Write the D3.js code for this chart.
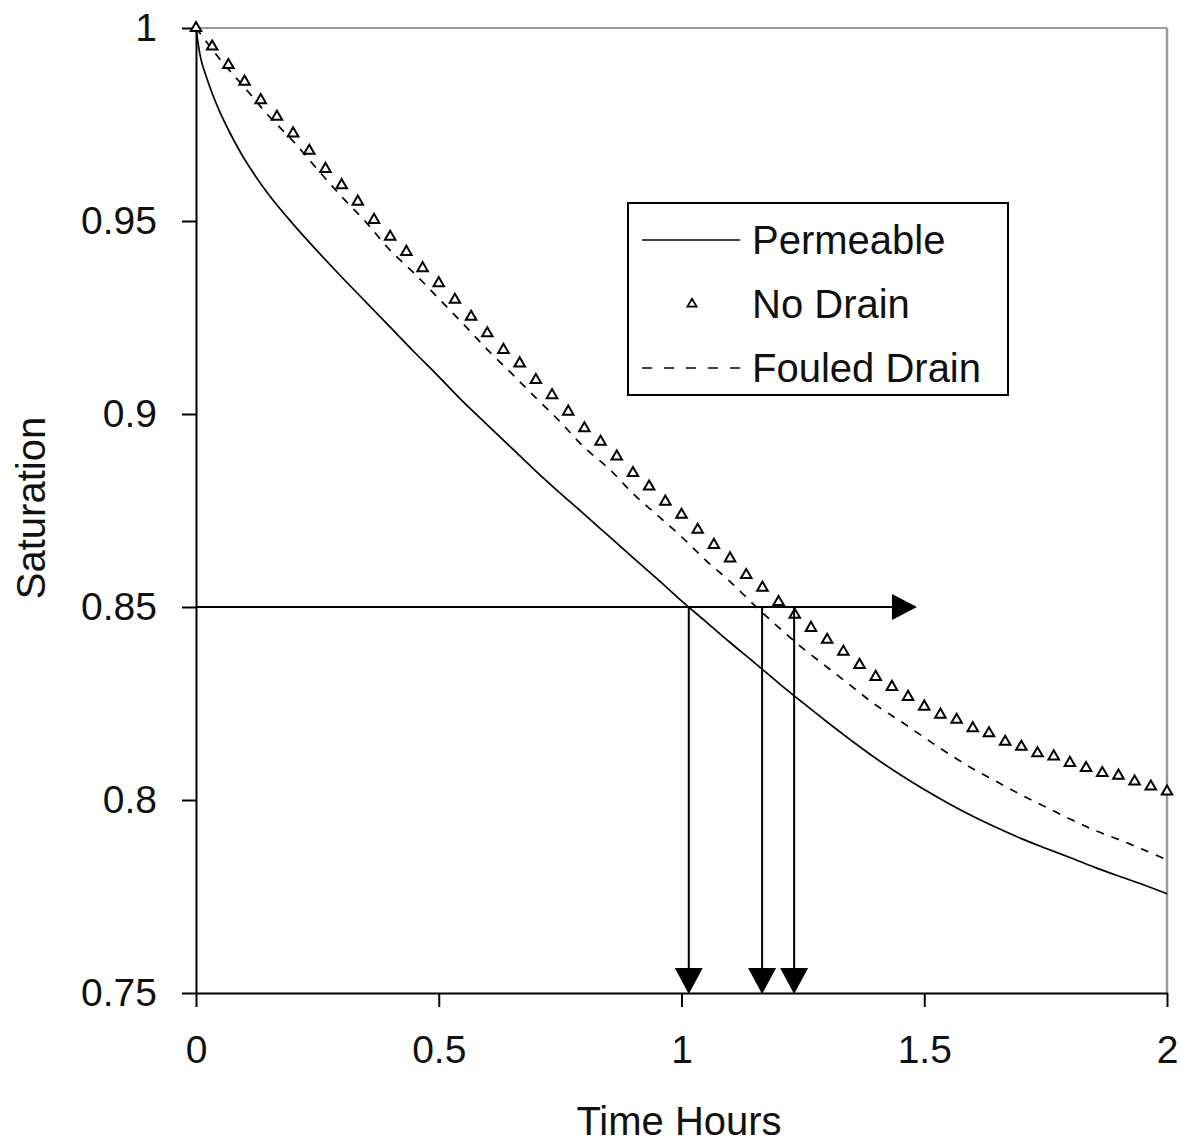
<!DOCTYPE html>
<html>
<head>
<meta charset="utf-8">
<script src="https://cdn.jsdelivr.net/npm/d3@7"></script>
<style>
  html, body { margin: 0; padding: 0; background: #fff; }
  svg { display: block; font-family: "Liberation Sans", Arial, sans-serif; }
</style>
</head>
<body>
<svg id="chart" width="1181" height="1145"></svg>
<script>
// ---------------- DATA ----------------
const xTicks = [0, 0.5, 1, 1.5, 2];
const yTicks = [0.75, 0.8, 0.85, 0.9, 0.95, 1];
const xTickLabels = ["0", "0.5", "1", "1.5", "2"];
const yTickLabels = ["0.75", "0.8", "0.85", "0.9", "0.95", "1"];

const seriesNames = ["Permeable", "No Drain", "Fouled Drain"];

// Permeable (solid line)
const permeableT = [0, 0.01, 0.02, 0.035, 0.05, 0.07, 0.1, 0.15, 0.2, 0.25, 0.3, 0.35, 0.4, 0.45, 0.5,
  0.55, 0.6, 0.65, 0.7, 0.75, 0.8, 0.85, 0.9, 0.95, 1.0, 1.05, 1.1, 1.15, 1.2, 1.25, 1.3, 1.35, 1.4,
  1.45, 1.5, 1.55, 1.6, 1.65, 1.7, 1.75, 1.8, 1.85, 1.9, 1.95, 2.0];
const permeableS = [1.0, 0.992, 0.9878, 0.9825, 0.978, 0.9728, 0.966, 0.9568, 0.9492, 0.9422, 0.9355, 0.929, 0.9225, 0.916, 0.9097,
  0.9032, 0.8972, 0.8912, 0.8852, 0.8795, 0.874, 0.8684, 0.8628, 0.8573, 0.8516, 0.8462, 0.8408, 0.8356, 0.8303, 0.8252, 0.8202, 0.8154, 0.8108,
  0.8066, 0.8027, 0.7991, 0.7958, 0.7928, 0.79, 0.7875, 0.7851, 0.7826, 0.7803, 0.7781, 0.7757];

// No Drain (triangle markers)
const noDrainT = [0, 0.0333, 0.0667, 0.1, 0.1333, 0.1667, 0.2, 0.2333, 0.2667, 0.3, 0.3333, 0.3667, 0.4, 0.4333, 0.4667,
  0.5, 0.5333, 0.5667, 0.6, 0.6333, 0.6667, 0.7, 0.7333, 0.7667, 0.8, 0.8333, 0.8667, 0.9, 0.9333, 0.9667,
  1.0, 1.0333, 1.0667, 1.1, 1.1333, 1.1667, 1.2, 1.2333, 1.2667, 1.3, 1.3333, 1.3667, 1.4, 1.4333, 1.4667,
  1.5, 1.5333, 1.5667, 1.6, 1.6333, 1.6667, 1.7, 1.7333, 1.7667, 1.8, 1.8333, 1.8667, 1.9, 1.9333, 1.9667, 2.0];
const noDrainS = [1.0, 0.9952, 0.9904, 0.9861, 0.9813, 0.977, 0.9727, 0.9682, 0.9635, 0.9593, 0.955, 0.9503, 0.9459, 0.942, 0.9378,
  0.9339, 0.9296, 0.9252, 0.9209, 0.9166, 0.9131, 0.9088, 0.9049, 0.9006, 0.8963, 0.8928, 0.889, 0.8847, 0.8812, 0.8773,
  0.8739, 0.87, 0.8661, 0.8626, 0.8583, 0.855, 0.8513, 0.848, 0.8446, 0.8415, 0.8384, 0.835, 0.8319, 0.8293, 0.8267,
  0.8242, 0.8221, 0.8208, 0.8186, 0.8173, 0.8151, 0.8138, 0.8121, 0.8113, 0.8096, 0.8083, 0.807, 0.8063, 0.8048, 0.8035, 0.8022];

// Fouled Drain (dashed line)
const fouledT = [0, 0.05, 0.1, 0.15, 0.2, 0.25, 0.3, 0.35, 0.4, 0.45, 0.5, 0.55, 0.6, 0.65, 0.7, 0.75, 0.8, 0.85, 0.9, 0.95,
  1.0, 1.05, 1.1, 1.15, 1.2, 1.25, 1.3, 1.35, 1.4, 1.45, 1.5, 1.55, 1.6, 1.65, 1.7, 1.75, 1.8, 1.85, 1.9, 1.95, 2.0];
const fouledS = [1.0, 0.9918, 0.9846, 0.9772, 0.9707, 0.9634, 0.9563, 0.9497, 0.9424, 0.9364, 0.9299, 0.9234, 0.9167, 0.9105, 0.9042, 0.898, 0.8913, 0.8859, 0.8794, 0.8738,
  0.8682, 0.8621, 0.8566, 0.8505, 0.8447, 0.8393, 0.8344, 0.8295, 0.8246, 0.8205, 0.8162, 0.812, 0.8081, 0.8047, 0.8013, 0.7982, 0.7951, 0.7922, 0.7898, 0.7872, 0.7845];

// Annotation arrows: threshold saturation and the times at which each curve reaches it
const thresholdS = 0.85;
const thresholdArrowEndT = 1.485;
const crossingTimes = [1.015, 1.166, 1.232];

// ---------------- CHART ----------------
(function () {
const svg = d3.select("#chart");
const W = 1181, H = 1145;
const pL = 196, pR = 1167, pT = 28, pB = 993;

const x = d3.scaleLinear().domain([0, 2]).range([pL, pR]);
const y = d3.scaleLinear().domain([0.75, 1]).range([pB, pT]);

svg.append("rect").attr("width", W).attr("height", H).attr("fill", "#fff");

// plot frame (top & right in gray)
svg.append("line").attr("x1", pL).attr("x2", pR).attr("y1", pT).attr("y2", pT)
  .attr("stroke", "#9a9a9a").attr("stroke-width", 2);
svg.append("line").attr("x1", pR).attr("x2", pR).attr("y1", pT).attr("y2", pB)
  .attr("stroke", "#9a9a9a").attr("stroke-width", 2.5);

// axes
const xAxis = d3.axisBottom(x).tickValues(xTicks).tickFormat((d, i) => xTickLabels[i])
  .tickSizeInner(14).tickSizeOuter(0).tickPadding(28);
const yAxis = d3.axisLeft(y).tickValues(yTicks).tickFormat((d, i) => yTickLabels[i])
  .tickSizeInner(14).tickSizeOuter(0).tickPadding(25);

const gx = svg.append("g").attr("transform", `translate(0,${pB})`).call(xAxis);
const gy = svg.append("g").attr("transform", `translate(${pL},0)`).call(yAxis);
[gx, gy].forEach(g => {
  g.selectAll("path.domain").attr("stroke", "#000").attr("stroke-width", 2);
  g.selectAll(".tick line").attr("stroke", "#000").attr("stroke-width", 2);
  g.selectAll(".tick text").attr("fill", "#111")
    .style("font-family", '"Liberation Sans", Arial, sans-serif').style("font-size", "39px");
});

// axis titles
svg.append("text").attr("x", 679).attr("y", 1135).attr("text-anchor", "middle")
  .style("font-size", "40px").attr("fill", "#111").text("Time Hours");
svg.append("text").attr("transform", "translate(45,508) rotate(-90)").attr("text-anchor", "middle")
  .style("font-size", "40px").attr("fill", "#111").text("Saturation");

// series
const line = d3.line().x(d => x(d[0])).y(d => y(d[1])).curve(d3.curveCatmullRom.alpha(0.5));
const permeable = permeableT.map((t, i) => [t, permeableS[i]]);
const noDrain = noDrainT.map((t, i) => [t, noDrainS[i]]);
const fouled = fouledT.map((t, i) => [t, fouledS[i]]);

svg.append("path").datum(permeable).attr("d", line)
  .attr("fill", "none").attr("stroke", "#000").attr("stroke-width", 1.7);
svg.append("path").datum(fouled).attr("d", line)
  .attr("fill", "none").attr("stroke", "#000").attr("stroke-width", 1.7).attr("stroke-dasharray", "8,8");

const tri = d3.symbol().type(d3.symbolTriangle).size(48);
svg.append("g").selectAll("path").data(noDrain).join("path")
  .attr("d", tri)
  .attr("transform", d => `translate(${x(d[0])},${y(d[1])})`)
  .attr("fill", "#fff").attr("stroke", "#000").attr("stroke-width", 2);

// arrows
function arrowHead(tipX, tipY, dir, len, half) {
  let pts;
  if (dir === "right") pts = [[tipX, tipY], [tipX - len, tipY - half], [tipX - len, tipY + half]];
  else pts = [[tipX, tipY], [tipX - half, tipY - len], [tipX + half, tipY - len]];
  svg.append("path").attr("d", "M" + pts.map(p => p.join(",")).join("L") + "Z").attr("fill", "#000");
}
svg.append("line").attr("x1", x(0)).attr("x2", x(thresholdArrowEndT) - 10)
  .attr("y1", y(thresholdS)).attr("y2", y(thresholdS)).attr("stroke", "#000").attr("stroke-width", 2);
arrowHead(x(thresholdArrowEndT), y(thresholdS), "right", 25, 13);
crossingTimes.forEach(t => {
  svg.append("line").attr("x1", x(t)).attr("x2", x(t)).attr("y1", y(thresholdS)).attr("y2", pB - 10)
    .attr("stroke", "#000").attr("stroke-width", 2);
  arrowHead(x(t), pB + 1, "down", 26, 14);
});

// legend
const lg = svg.append("g");
lg.append("rect").attr("x", 628).attr("y", 203).attr("width", 380).attr("height", 192)
  .attr("fill", "#fff").attr("stroke", "#000").attr("stroke-width", 2);
const legendRows = [
  { name: seriesNames[0], y: 240, kind: "solid" },
  { name: seriesNames[1], y: 304, kind: "marker" },
  { name: seriesNames[2], y: 368, kind: "dashed" }
];
legendRows.forEach(r => {
  if (r.kind === "marker") {
    lg.append("path").attr("d", d3.symbol().type(d3.symbolTriangle).size(36)).attr("transform", `translate(692,${r.y})`)
      .attr("fill", "#fff").attr("stroke", "#000").attr("stroke-width", 1.8);
  } else {
    lg.append("line").attr("x1", 642).attr("x2", 740).attr("y1", r.y).attr("y2", r.y)
      .attr("stroke", "#000").attr("stroke-width", 1.6)
      .attr("stroke-dasharray", r.kind === "dashed" ? "10,12" : null);
  }
  lg.append("text").attr("x", 752).attr("y", r.y).attr("dy", "0.35em")
    .style("font-size", "40px").attr("fill", "#111").text(r.name);
});
})();
</script>
</body>
</html>
